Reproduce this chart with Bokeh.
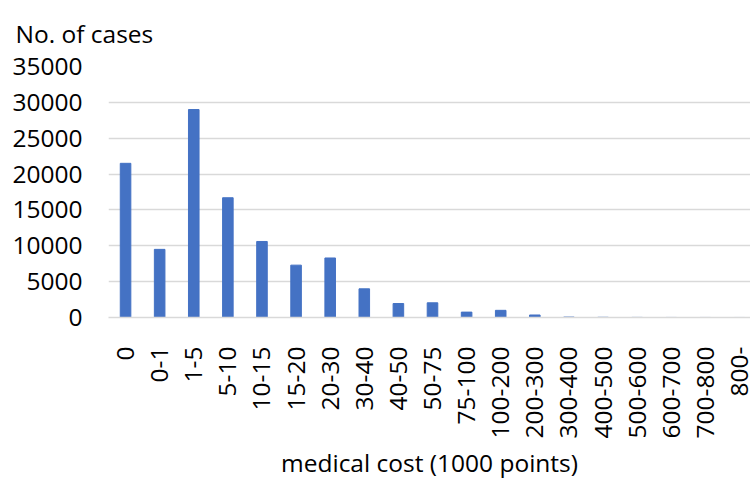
from math import pi
from bokeh.plotting import figure
from bokeh.models import Range1d, Title, FixedTicker
from bokeh.embed import file_html
from bokeh.resources import INLINE

categories = ["0", "0-1", "1-5", "5-10", "10-15", "15-20", "20-30", "30-40", "40-50",
              "50-75", "75-100", "100-200", "200-300", "300-400", "400-500", "500-600",
              "600-700", "700-800", "800-"]
cases = [21500, 9500, 29000, 16700, 10600, 7300, 8300, 4000, 1950,
         2050, 750, 1000, 350, 60, 30, 15, 8, 5, 3]
y_ticks = [0, 5000, 10000, 15000, 20000, 25000, 30000, 35000]

FONT = "Open Sans"
FS = "24.5px"

xpos = list(range(len(categories)))

p = figure(width=750, height=482, output_backend="svg",
           toolbar_location=None, min_border_left=108, min_border_right=0,
           min_border_top=66, min_border_bottom=164)
x_end = len(categories) - 0.5 - 6 / 34.1
p.x_range = Range1d(-0.5, x_end)
p.y_range = Range1d(0, 35000)

p.vbar(x=xpos, top=cases, width=0.31, color="#4472C4")

p.outline_line_color = None
p.background_fill_color = "white"
p.border_fill_color = "white"

p.xgrid.grid_line_color = None
p.ygrid.grid_line_color = "#d9d9d9"
p.ygrid.grid_line_width = 1.5
p.yaxis.ticker = FixedTicker(ticks=y_ticks)

p.yaxis.axis_line_color = None
p.yaxis.major_tick_line_color = None
p.yaxis.minor_tick_line_color = None
p.yaxis.major_tick_out = 0
p.yaxis.major_label_standoff = 26
p.yaxis.major_label_text_font = FONT
p.yaxis.major_label_text_font_size = FS
p.yaxis.major_label_text_color = "black"

p.xaxis.ticker = FixedTicker(ticks=xpos)
p.xaxis.major_label_overrides = {i: c for i, c in zip(xpos, categories)}
p.xaxis.axis_line_color = "#d9d9d9"
p.xaxis.axis_line_width = 1.5
p.xaxis.major_tick_line_color = None
p.xaxis.minor_tick_line_color = None
p.xaxis.major_tick_out = 0
p.xaxis.major_label_orientation = pi / 2
p.xaxis.major_label_standoff = 29
p.xaxis.major_label_text_font = FONT
p.xaxis.major_label_text_font_size = FS
p.xaxis.major_label_text_color = "black"
p.xaxis.axis_label = "medical cost (1000 points)"
p.xaxis.axis_label_text_font = FONT
p.xaxis.axis_label_text_font_size = FS
p.xaxis.axis_label_text_font_style = "normal"
p.xaxis.axis_label_text_color = "black"
p.xaxis.axis_label_standoff = 5

t = Title(text="No. of cases", align="left", offset=-93, text_font=FONT,
          text_font_size=FS, text_font_style="normal", text_color="black",
          vertical_align="top", standoff=30)
p.add_layout(t, "above")

open("out.html", "w").write(file_html(p, INLINE))
